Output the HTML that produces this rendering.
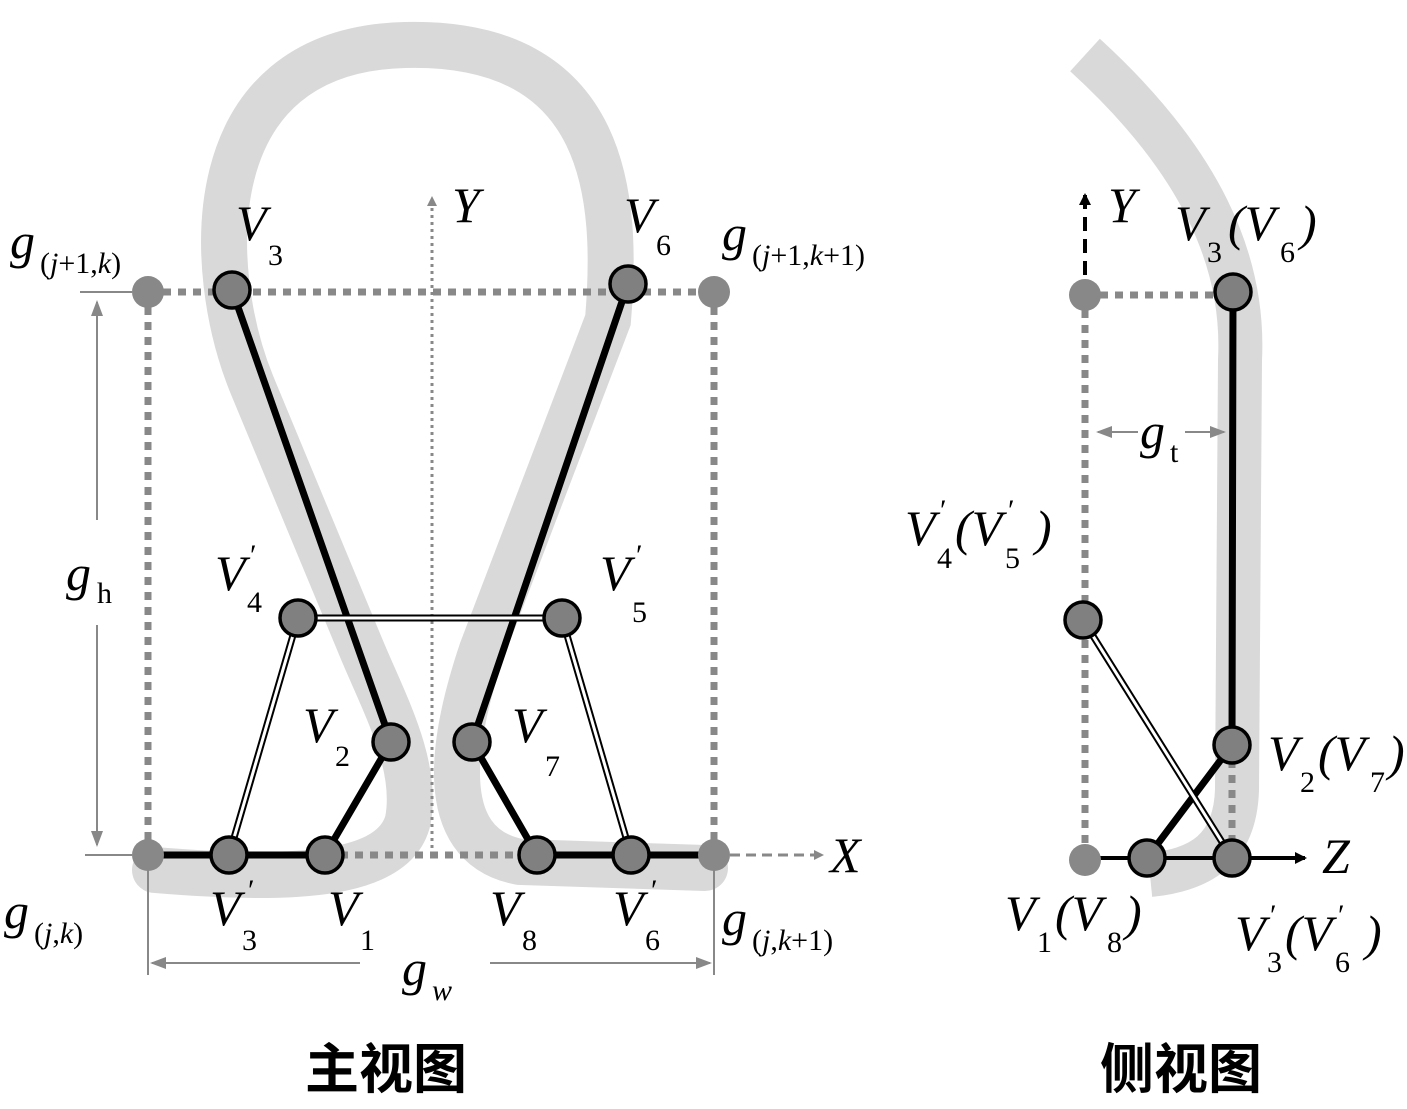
<!DOCTYPE html>
<html><head><meta charset="utf-8"><style>
html,body{margin:0;padding:0;background:#fff}
svg{display:block}
.t{font-family:"Liberation Serif",serif;font-style:italic;font-size:50px;fill:#000}
.s{font-family:"Liberation Serif",serif;font-size:30px;fill:#000}
.si{font-family:"Liberation Serif",serif;font-style:italic;font-size:30px;fill:#000}
.cn{font-family:"Liberation Sans","Noto Sans CJK SC",sans-serif;font-size:54px;font-weight:bold;fill:#000}
</style></head><body>
<svg width="1407" height="1109" viewBox="0 0 1407 1109" xmlns="http://www.w3.org/2000/svg">
<defs>
<marker id="ag" markerWidth="10" markerHeight="10" refX="8" refY="5" orient="auto" markerUnits="userSpaceOnUse"><path d="M0,0 L10,5 L0,10 z" fill="#888"/></marker>
<marker id="ab" markerWidth="12" markerHeight="12" refX="10" refY="6" orient="auto" markerUnits="userSpaceOnUse"><path d="M0,0 L12,6 L0,12 z" fill="#000"/></marker>
<marker id="aw" markerWidth="16" markerHeight="12" refX="14" refY="6" orient="auto" markerUnits="userSpaceOnUse"><path d="M0,0 L16,6 L0,12 z" fill="#888"/></marker>
</defs>
<path d="M155,870 C300,882 395,875 408,820 C418,765 385,705 362,650 L252,385 C205,270 195,50 405,45 C610,40 618,200 608,320 L482,650 C455,730 430,845 520,862 L705,868" fill="none" stroke="#d9d9d9" stroke-width="46" stroke-linecap="round"/>
<path d="M1085,55 C1200,160 1245,260 1240,360 L1237,790 C1235,850 1200,870 1150,875" fill="none" stroke="#d9d9d9" stroke-width="44"/>
<g stroke="#888" stroke-width="7" stroke-dasharray="8,7" fill="none">
<line x1="148" y1="292" x2="714" y2="292"/>
<line x1="148" y1="292" x2="148" y2="855"/>
<line x1="714" y1="292" x2="714" y2="855"/>
<line x1="325" y1="855" x2="537" y2="855"/>
<line x1="1085" y1="295" x2="1233" y2="295"/>
<line x1="1085" y1="295" x2="1085" y2="860"/>
<line x1="1232" y1="745" x2="1232" y2="858"/>
</g>
<line x1="432" y1="855" x2="432" y2="198" stroke="#888" stroke-width="3" stroke-dasharray="3,4" marker-end="url(#ag)"/>
<line x1="714" y1="855" x2="822" y2="855" stroke="#888" stroke-width="3" stroke-dasharray="10,6" marker-end="url(#ag)"/>
<line x1="1085" y1="275" x2="1085" y2="195" stroke="#000" stroke-width="4" stroke-dasharray="14,8" marker-end="url(#ab)"/>
<line x1="1085" y1="858" x2="1305" y2="858" stroke="#000" stroke-width="4" marker-end="url(#ab)"/>
<g stroke="#888" stroke-width="2" fill="none">
<line x1="80" y1="292" x2="132" y2="292"/>
<line x1="85" y1="855" x2="132" y2="855"/>
<line x1="97" y1="520" x2="97" y2="302" marker-end="url(#aw)"/>
<line x1="97" y1="625" x2="97" y2="845" marker-end="url(#aw)"/>
<line x1="148" y1="870" x2="148" y2="975"/>
<line x1="714" y1="870" x2="714" y2="975"/>
<line x1="360" y1="963" x2="152" y2="963" marker-end="url(#aw)"/>
<line x1="490" y1="963" x2="710" y2="963" marker-end="url(#aw)"/>
<line x1="1138" y1="432" x2="1098" y2="432" marker-end="url(#aw)"/>
<line x1="1185" y1="432" x2="1224" y2="432" marker-end="url(#aw)"/>
</g>
<g stroke="#000" stroke-width="7" fill="none" stroke-linejoin="round">
<polyline points="232,290 391,742 325,855 148,855"/>
<polyline points="628,284 472,742 537,855 714,855"/>
<polyline points="1233,292 1232,745 1147,858"/>
</g>
<g fill="none">
<g stroke="#000" stroke-width="7"><line x1="298" y1="618" x2="562" y2="618"/><line x1="298" y1="618" x2="229" y2="855"/><line x1="562" y1="618" x2="631" y2="855"/><line x1="1083" y1="620" x2="1232" y2="858"/></g>
<g stroke="#fff" stroke-width="3"><line x1="298" y1="618" x2="562" y2="618"/><line x1="298" y1="618" x2="229" y2="855"/><line x1="562" y1="618" x2="631" y2="855"/><line x1="1083" y1="620" x2="1232" y2="858"/></g>
</g>
<g fill="#888"><circle cx="148" cy="292" r="16"/><circle cx="714" cy="292" r="16"/><circle cx="148" cy="855" r="16"/><circle cx="714" cy="855" r="16"/><circle cx="1085" cy="295" r="16"/><circle cx="1085" cy="860" r="16"/></g>
<g fill="#808080" stroke="#000" stroke-width="3.5">
<circle cx="232" cy="290" r="18"/><circle cx="628" cy="284" r="18"/><circle cx="298" cy="618" r="18"/><circle cx="562" cy="618" r="18"/><circle cx="391" cy="742" r="18"/><circle cx="472" cy="742" r="18"/><circle cx="229" cy="855" r="18"/><circle cx="325" cy="855" r="18"/><circle cx="537" cy="855" r="18"/><circle cx="631" cy="855" r="18"/>
<circle cx="1233" cy="292" r="18"/><circle cx="1232" cy="745" r="18"/><circle cx="1083" cy="620" r="18"/><circle cx="1147" cy="858" r="18"/><circle cx="1232" cy="858" r="18"/>
</g>
<text class="t" x="236" y="240">V</text><text class="s" x="268" y="265">3</text>
<text class="t" x="624" y="232">V</text><text class="s" x="656" y="255">6</text>
<text class="t" x="452" y="222">Y</text>
<text class="t" x="10" y="258">g</text><text class="s" x="40" y="273">(<tspan class="si">j</tspan>+1,<tspan class="si">k</tspan>)</text>
<text class="t" x="722" y="250">g</text><text class="s" x="752" y="265">(<tspan class="si">j</tspan>+1,<tspan class="si">k</tspan>+1)</text>
<text class="t" x="66" y="590">g</text><text class="s" x="97" y="603">h</text>
<text class="t" x="215" y="590">V</text><text class="s" x="250" y="565">′</text><text class="s" x="247" y="612">4</text>
<text class="t" x="600" y="590">V</text><text class="s" x="636" y="565">′</text><text class="s" x="632" y="622">5</text>
<text class="t" x="303" y="742">V</text><text class="s" x="335" y="766">2</text>
<text class="t" x="512" y="742">V</text><text class="s" x="545" y="776">7</text>
<text class="t" x="830" y="872">X</text>
<text class="t" x="4" y="928">g</text><text class="s" x="34" y="943">(<tspan class="si">j</tspan>,<tspan class="si">k</tspan>)</text>
<text class="t" x="210" y="925">V</text><text class="s" x="248" y="900">′</text><text class="s" x="242" y="950">3</text>
<text class="t" x="328" y="925">V</text><text class="s" x="360" y="950">1</text>
<text class="t" x="490" y="925">V</text><text class="s" x="522" y="950">8</text>
<text class="t" x="613" y="925">V</text><text class="s" x="651" y="900">′</text><text class="s" x="645" y="950">6</text>
<text class="t" x="722" y="935">g</text><text class="s" x="752" y="950">(<tspan class="si">j</tspan>,<tspan class="si">k</tspan>+1)</text>
<text class="t" x="402" y="985">g</text><text class="si" x="432" y="1000">w</text>
<text class="t" x="1108" y="222">Y</text>
<text class="t" x="1175" y="240">V</text><text class="s" x="1207" y="262">3</text><text class="t" x="1228" y="240">(V</text><text class="s" x="1280" y="262">6</text><text class="t" x="1300" y="240">)</text>
<text class="t" x="1140" y="448">g</text><text class="s" x="1170" y="462">t</text>
<text class="t" x="905" y="545">V</text><text class="s" x="940" y="520">′</text><text class="s" x="937" y="568">4</text><text class="t" x="955" y="545">(V</text><text class="s" x="1008" y="520">′</text><text class="s" x="1005" y="568">5</text><text class="t" x="1035" y="545">)</text>
<text class="t" x="1268" y="770">V</text><text class="s" x="1300" y="792">2</text><text class="t" x="1318" y="770">(V</text><text class="s" x="1370" y="792">7</text><text class="t" x="1388" y="770">)</text>
<text class="t" x="1322" y="873">Z</text>
<text class="t" x="1005" y="930">V</text><text class="s" x="1037" y="952">1</text><text class="t" x="1055" y="930">(V</text><text class="s" x="1107" y="952">8</text><text class="t" x="1125" y="930">)</text>
<text class="t" x="1235" y="950">V</text><text class="s" x="1270" y="925">′</text><text class="s" x="1267" y="972">3</text><text class="t" x="1285" y="950">(V</text><text class="s" x="1338" y="925">′</text><text class="s" x="1335" y="972">6</text><text class="t" x="1365" y="950">)</text>
<text class="cn" x="305" y="1088">主视图</text>
<text class="cn" x="1100" y="1088">侧视图</text>
</svg>
</body></html>
